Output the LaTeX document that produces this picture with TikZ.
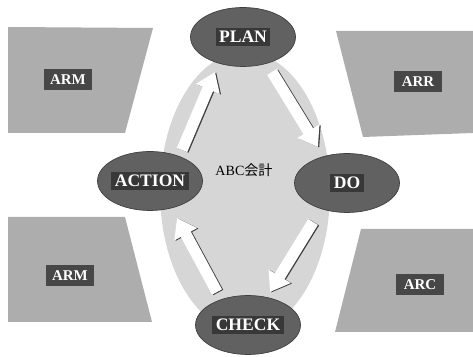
\documentclass[tikz,border=0pt]{standalone}
\usepackage{fontspec}
\setmainfont{Liberation Serif}
\newfontfamily\jpfont{Noto Sans CJK JP}
\usetikzlibrary{arrows.meta,shapes.geometric}

\begin{document}
\begin{tikzpicture}[x=0.02cm,y=-0.02cm,
        panel/.style={fill=black!32},
        tag/.style={fill=black!72, text=white, font=\fontsize{8.5}{9}\selectfont\bfseries, minimum width=0.96cm, minimum height=0.42cm, inner sep=0pt},
        phase/.style={ellipse, fill=black!62, draw=black!75, minimum width=2.1cm, minimum height=1.18cm, inner sep=0pt},
        phasetag/.style={fill=black!78, text=white, font=\fontsize{10}{11}\selectfont\bfseries, inner sep=2pt},
        flowshade/.style={line width=6.4pt, black!75, -{Triangle[width=14pt,length=10.5pt]}},
        flow/.style={line width=6.4pt, white, -{Triangle[width=14pt,length=10.5pt]}}]
    \useasboundingbox (0,0) rectangle (473,357);

    % side panels
    \fill[panel] (8,27) -- (153,28) -- (125,133) -- (8,133) -- cycle;
    \fill[panel] (336,31) -- (473,31) -- (473,133) -- (363,137) -- cycle;
    \fill[panel] (8,217) -- (125,217) -- (152,322) -- (8,322) -- cycle;
    \fill[panel] (361,229) -- (473,229) -- (473,332) -- (335,332) -- cycle;
    \node[tag] (armtop) at (68,80) {ARM};
    \node[tag] (arr) at (418,82) {ARR};
    \node[tag] (armbot) at (70,276) {ARM};
    \node[tag] (arc) at (420,285) {ARC};

    % cycle
    \node[ellipse, fill=black!16, minimum width=3.4cm, minimum height=5.6cm, inner sep=0pt] (abc) at (245,192) {};
    \node (abclbl) at (244,170) {\fontsize{8}{9}\selectfont ABC{\jpfont 会計}};

    \coordinate (a1s) at (182,150);
    \coordinate (a1e) at (215,72);
    \coordinate (a2s) at (272,72);
    \coordinate (a2e) at (318,147);
    \coordinate (a3s) at (313,222);
    \coordinate (a3e) at (270,292);
    \coordinate (a4s) at (217,292);
    \coordinate (a4e) at (177,218);
    \foreach \s/\e in {a1s/a1e, a2s/a2e, a3s/a3e, a4s/a4e}{
        \draw[flowshade] ([shift={(1.3,0.5)}]\s) -- ([shift={(1.3,0.5)}]\e);
        \draw[flow] (\s) -- (\e);
    }

    \node[phase] (plan) at (243,37) {};
    \node[phase] (do) at (347,183) {};
    \node[phase] (action) at (150,181) {};
    \node[phase] (check) at (248,325) {};
    \node[phasetag] (planlbl) at (plan) {PLAN};
    \node[phasetag] (dolbl) at (do) {DO};
    \node[phasetag] (actionlbl) at (action) {ACTION};
    \node[phasetag] (checklbl) at (check) {CHECK};
\end{tikzpicture}
\end{document}
